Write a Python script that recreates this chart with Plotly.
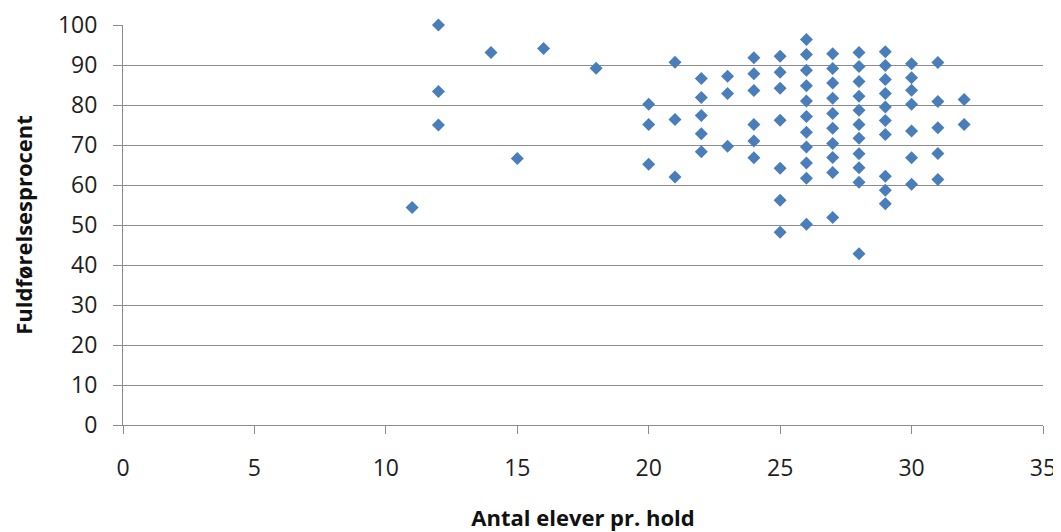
import plotly.graph_objects as go

# Data (class size vs completion %)
x_vals = [11, 12, 12, 12, 14, 15, 16, 18,
          20, 20, 20,
          21, 21, 21,
          22, 22, 22, 22, 22,
          23, 23, 23,
          24, 24, 24, 24, 24, 24,
          25, 25, 25, 25, 25, 25, 25,
          26, 26, 26, 26, 26, 26, 26, 26, 26, 26, 26,
          27, 27, 27, 27, 27, 27, 27, 27, 27, 27,
          28, 28, 28, 28, 28, 28, 28, 28, 28, 28, 28,
          29, 29, 29, 29, 29, 29, 29, 29, 29, 29,
          30, 30, 30, 30, 30, 30, 30,
          31, 31, 31, 31, 31,
          32, 32]
y_vals = [54.4, 100.0, 83.4, 75.0, 93.1, 66.6, 94.1, 89.2,
          80.2, 75.1, 65.2,
          90.7, 76.4, 62.0,
          86.6, 81.9, 77.4, 72.8, 68.3,
          87.2, 82.9, 69.7,
          91.8, 87.8, 83.6, 75.1, 71.0, 66.8,
          92.2, 88.2, 84.2, 76.2, 64.2, 56.2, 48.2,
          96.4, 92.6, 88.7, 84.8, 81.0, 77.1, 73.2, 69.5, 65.5, 61.7, 50.2,
          92.8, 89.1, 85.5, 81.7, 77.9, 74.2, 70.4, 66.9, 63.1, 51.9,
          93.1, 89.6, 85.9, 82.2, 78.7, 75.1, 71.7, 67.8, 64.3, 60.7, 42.8,
          93.3, 89.9, 86.4, 82.9, 79.5, 76.1, 72.6, 62.2, 58.7, 55.3,
          90.3, 86.8, 83.7, 80.2, 73.5, 66.8, 60.2,
          90.6, 80.9, 74.3, 67.9, 61.4,
          81.4, 75.1]

x_ticks = [0, 5, 10, 15, 20, 25, 30, 35]
y_ticks = [0, 10, 20, 30, 40, 50, 60, 70, 80, 90, 100]

fig = go.Figure()
fig.add_trace(go.Scatter(
    x=x_vals, y=y_vals, mode="markers", cliponaxis=False,
    marker=dict(symbol="diamond", size=10, color="#4A7EBB",
                line=dict(width=0)),
    showlegend=False,
))

grid = "#8C8C8C"
tickfont = dict(size=23, family="Open Sans", color="#1E1E1E")
titlefont = dict(size=22, family="Open Sans", color="#111111")
# the page body has an 8px margin, so the figure is sized to fit the window
fig.update_layout(
    width=1053, height=524,
    margin=dict(l=115, r=18, t=17, b=107),
    paper_bgcolor="white", plot_bgcolor="white",
    font=dict(family="Open Sans", size=20, color="#1E1E1E"),
    xaxis=dict(
        range=[0, 35], tickvals=x_ticks, showgrid=False, zeroline=False,
        showline=True, linecolor=grid, linewidth=1, automargin=False,
        ticks="outside", ticklen=8, tickcolor=grid, tickwidth=1,
        ticklabelstandoff=14,
        tickfont=tickfont,
        title=dict(text="<b>Antal elever pr. hold</b>", standoff=32,
                   font=titlefont),
    ),
    yaxis=dict(
        range=[0, 100], tickvals=y_ticks, showgrid=True, gridcolor=grid,
        gridwidth=1, zeroline=False, automargin=False,
        showline=True, linecolor=grid, linewidth=1,
        ticks="outside", ticklen=9, tickcolor=grid, tickwidth=1,
        ticklabelstandoff=11,
        tickfont=tickfont,
        title=dict(text="<b>Fuldførelsesprocent</b>", standoff=22,
                   font=titlefont),
    ),
)

fig.write_html("out.html")
